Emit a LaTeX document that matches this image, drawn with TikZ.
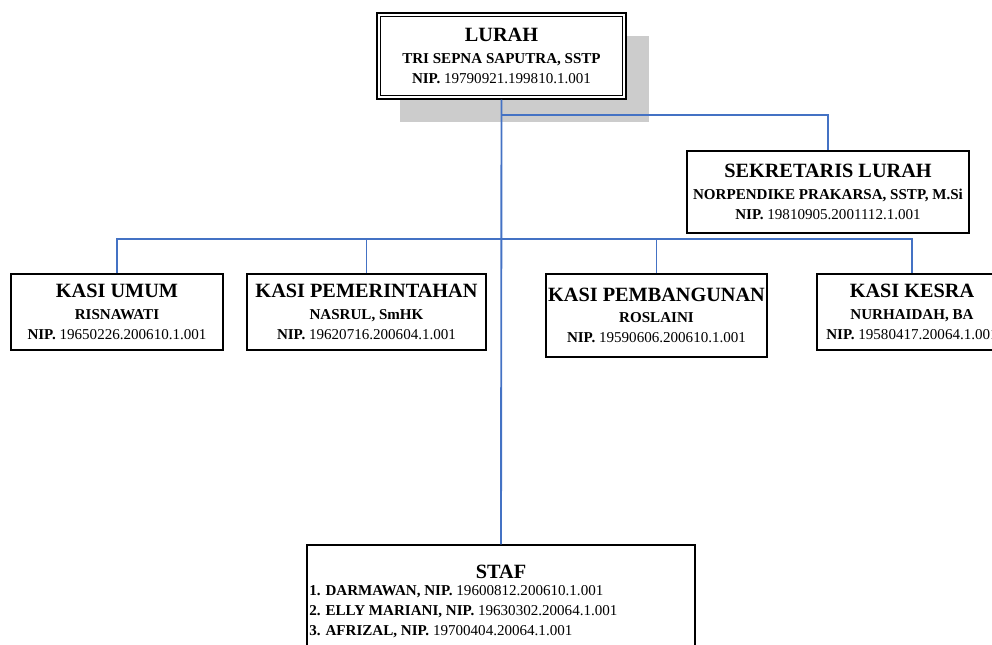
\documentclass[tikz,border=0pt]{standalone}
\usepackage{fontspec}
\setmainfont{Liberation Serif}
\begin{document}
\begin{tikzpicture}[x=0.75pt,y=-0.75pt,
  box/.style={draw=black,line width=1.1pt,fill=white,inner sep=0pt,align=center,font=\fontsize{11.3}{15}\selectfont\bfseries},
  conn/.style={draw={rgb,255:red,68;green,114;blue,196},line width=1.4pt},
  ttl/.style={font=\fontsize{15.2}{18}\selectfont\bfseries}]
\useasboundingbox (0,0) rectangle (992,645);
\begin{scope}
\clip (0,0) rectangle (992,645);
% shadow
\fill[gray!40] (400,36) rectangle (649,122);
% nodes
\node[box,minimum width=249*0.75pt,minimum height=86*0.75pt] (lurah) at (501.5,56)
  {{\fontsize{15.2}{18}\selectfont LURAH}\\[1pt] TRI SEPNA SAPUTRA, SSTP\\ NIP. {\mdseries 19790921.199810.1.001}};
\draw[line width=0.9pt] ([shift={(4.5*0.75pt,-4.5*0.75pt)}]lurah.north west) rectangle ([shift={(-4.5*0.75pt,4.5*0.75pt)}]lurah.south east);
\node[box,minimum width=282*0.75pt,minimum height=82*0.75pt] (sek) at (828,192)
  {{\fontsize{15.2}{18}\selectfont SEKRETARIS LURAH}\\[1pt] NORPENDIKE PRAKARSA, SSTP, M.Si\\ NIP. {\mdseries 19810905.2001112.1.001}};
\node[box,minimum width=212*0.75pt,minimum height=76*0.75pt] (umum) at (117,312)
  {{\fontsize{15.2}{18}\selectfont KASI UMUM}\\[1pt] RISNAWATI\\ NIP.\ {\mdseries 19650226.200610.1.001}};
\node[box,minimum width=239*0.75pt,minimum height=76*0.75pt] (pemer) at (366.5,312)
  {{\fontsize{15.2}{18}\selectfont KASI PEMERINTAHAN}\\[1pt] NASRUL, SmHK\\ NIP. {\mdseries 19620716.200604.1.001}};
\node[box,minimum width=221*0.75pt,minimum height=83*0.75pt] (pemb) at (656.5,315.5)
  {{\fontsize{15.2}{18}\selectfont KASI PEMBANGUNAN}\\[1pt] ROSLAINI\\ NIP. {\mdseries 19590606.200610.1.001}};
\node[box,minimum width=190*0.75pt,minimum height=76*0.75pt] (kesra) at (912,312)
  {{\fontsize{15.2}{18}\selectfont KASI KESRA}\\[1pt] NURHAIDAH, BA\\ NIP. {\mdseries 19580417.20064.1.001}};
\node[box,minimum width=388*0.75pt,minimum height=130*0.75pt] (staf) at (501,610) {};
\node[ttl,anchor=center] (staft) at (501,572) {STAF};
\node[anchor=north west,inner sep=0pt,align=left,font=\fontsize{11.3}{15}\selectfont\bfseries] (stafl) at (309,585)
  {1. DARMAWAN, NIP. {\mdseries 19600812.200610.1.001}\\
   2. ELLY MARIANI, NIP. {\mdseries 19630302.20064.1.001}\\
   3. AFRIZAL, NIP. {\mdseries 19700404.20064.1.001}};
% connectors
\coordinate (j1) at (501.5,115);
\coordinate (j2) at (501.5,239);
\draw[conn] (lurah.south) -- (staf.north);
\draw[conn] (j1) -| (sek.north);
\draw[conn] (umum.north) |- (j2) -| (kesra.north);
\draw[conn] (pemer.north) -- (pemer.north |- j2);
\draw[conn] (pemb.north) -- (pemb.north |- j2);
\end{scope}
\end{tikzpicture}
\end{document}
